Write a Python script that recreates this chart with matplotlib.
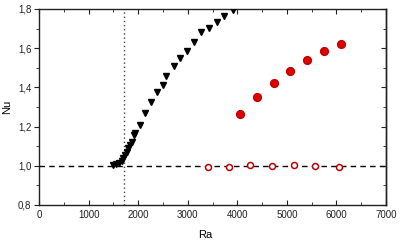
import matplotlib
matplotlib.use("Agg")
import matplotlib.pyplot as plt
from matplotlib.ticker import MultipleLocator, FuncFormatter, NullFormatter

plt.rcParams['font.family'] = ['Liberation Sans', 'DejaVu Sans']

# black triangles
tri_ra = [1493, 1553, 1614, 1674, 1695, 1735, 1775, 1795, 1836, 1876, 1917, 1937,
          2037, 2138, 2259, 2380, 2502, 2562, 2723, 2845, 2986, 3127, 3268, 3429,
          3591, 3732, 3914]
tri_nu = [1.004, 1.009, 1.014, 1.024, 1.04, 1.055, 1.07, 1.09, 1.106, 1.12, 1.157, 1.167,
          1.21, 1.27, 1.326, 1.377, 1.41, 1.46, 1.51, 1.55, 1.586, 1.63, 1.683, 1.703,
          1.734, 1.764, 1.795]

# red filled circles
fill_ra = [4055, 4398, 4741, 5064, 5406, 5749, 6092]
fill_nu = [1.264, 1.351, 1.423, 1.484, 1.540, 1.586, 1.621]

# red open circles
open_ra = [3409, 3840, 4263, 4700, 5138, 5568, 6046]
open_nu = [0.995, 0.995, 1.004, 0.999, 1.003, 0.999, 0.995]

ra_crit = 1708

fig = plt.figure(figsize=(4.0, 2.42), dpi=100)
ax = fig.add_axes([39/400, 1-205/242, 347/400, 196/242])

ax.axhline(1.0, color='black', ls=(0, (4, 3)), lw=1.0, zorder=1)
ax.axvline(ra_crit, color='#444444', ls=(0, (1, 2)), lw=1.0, zorder=1)

ax.plot(tri_ra, tri_nu, 'v', color='black', ms=4.5, zorder=3)
ax.plot(fill_ra, fill_nu, 'o', color='#e00000', mec='#c00000', ms=5.6, zorder=3)
ax.plot(open_ra, open_nu, 'o', mfc='white', mec='#c00000', mew=1.1, ms=4.3, zorder=3)

ax.set_xlim(0, 7000)
ax.set_ylim(0.8, 1.8)
ax.xaxis.set_major_locator(MultipleLocator(1000))
ax.xaxis.set_minor_locator(MultipleLocator(500))
ax.yaxis.set_major_locator(MultipleLocator(0.2))
ax.yaxis.set_minor_locator(MultipleLocator(0.1))
ax.yaxis.set_major_formatter(FuncFormatter(lambda v, p: ('%.1f' % v).replace('.', ',')))
ax.tick_params(which='both', direction='in', top=True, labelsize=7, colors='#222222')
ax.tick_params(axis='y', which='both', direction='out', pad=2, right=False)
ax.tick_params(which='major', length=3.5)
ax.tick_params(which='minor', length=2)
for s in ax.spines.values():
    s.set_linewidth(1.0)
    s.set_color('#222222')

# right side ticks point inward
sec = ax.secondary_yaxis('right')
sec.yaxis.set_major_locator(MultipleLocator(0.2))
sec.yaxis.set_minor_locator(MultipleLocator(0.1))
sec.yaxis.set_major_formatter(NullFormatter())
sec.tick_params(which='both', direction='in', colors='#222222')
sec.tick_params(which='major', length=3.5)
sec.tick_params(which='minor', length=2)
sec.spines['right'].set_linewidth(1.0)
sec.spines['right'].set_color('#222222')

ax.set_xlabel('Ra', fontsize=8)
ax.xaxis.set_label_coords(0.478, -0.125)
ax.set_ylabel('Nu', fontsize=8, labelpad=4)

fig.savefig('out.png', dpi=100)
